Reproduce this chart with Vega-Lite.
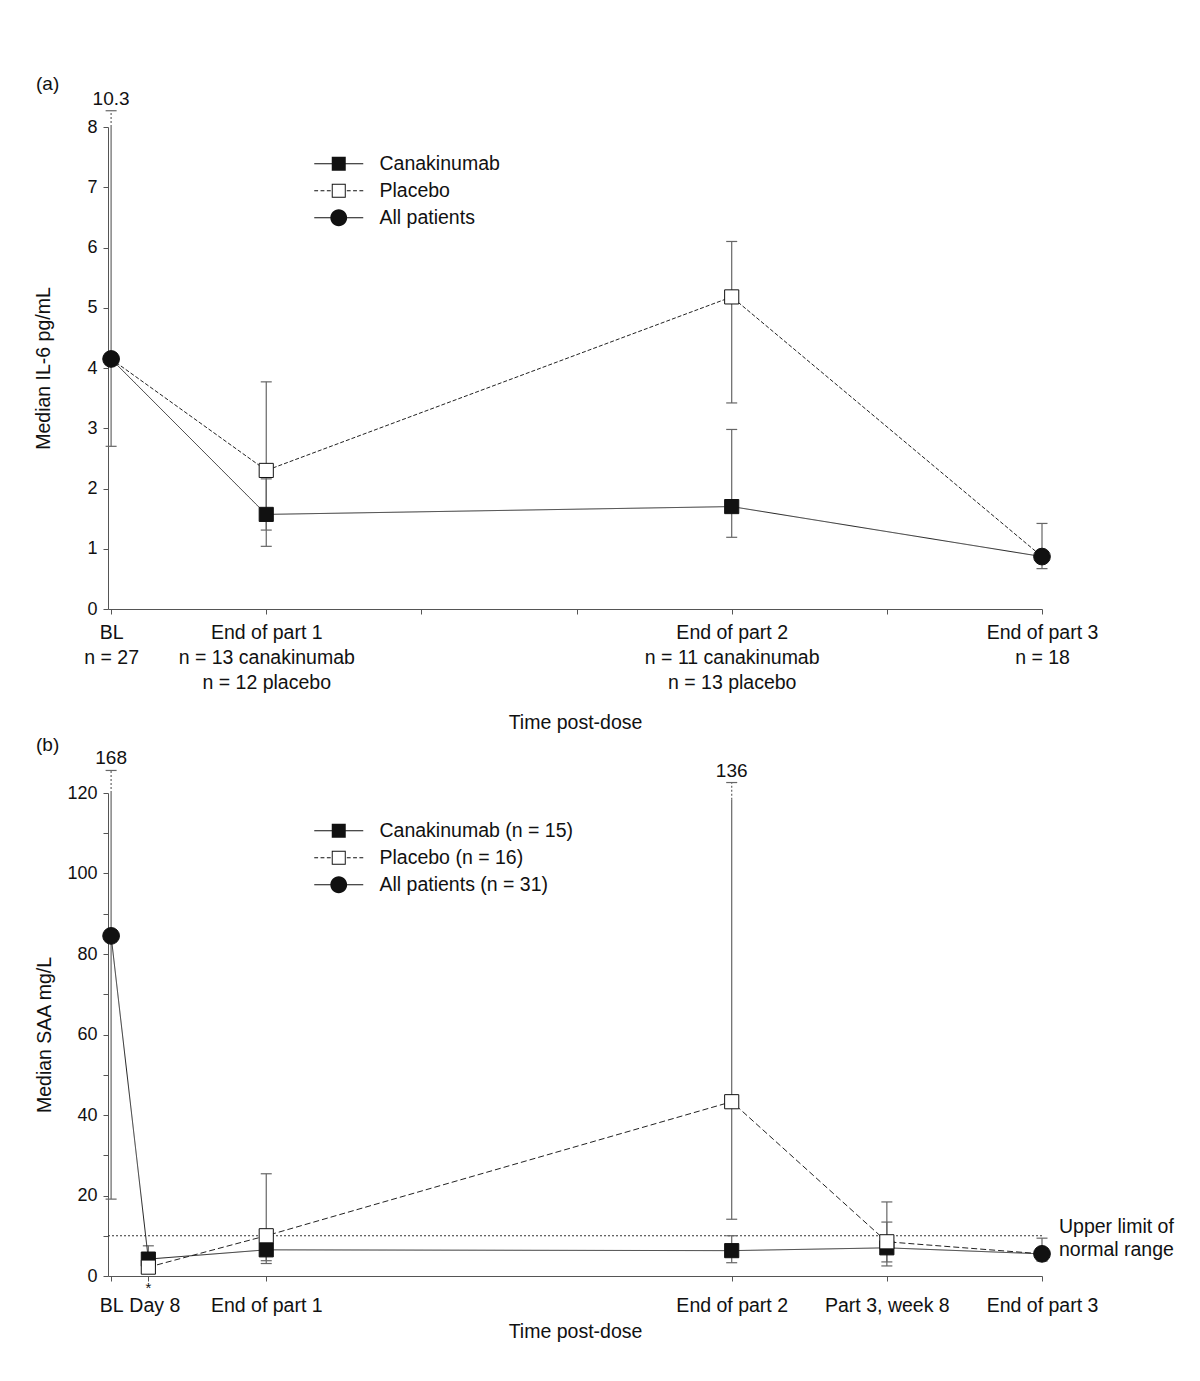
{
  "$schema": "https://vega.github.io/schema/vega-lite/v6.json",
  "background": "white",
  "padding": {"left": 33, "top": 74, "right": 10, "bottom": 10},
  "config": {
    "font": "Liberation Sans",
    "view": {"stroke": null},
    "axis": {
      "grid": false,
      "domainColor": "#555",
      "tickColor": "#555",
      "labelColor": "#111",
      "titleColor": "#111",
      "labelFont": "Liberation Sans",
      "titleFont": "Liberation Sans",
      "labelFontSize": 18,
      "titleFontSize": 19.5,
      "titleFontWeight": "normal",
      "tickSize": 5,
      "labelPadding": 6
    },
    "legend": {
      "labelFont": "Liberation Sans",
      "labelFontSize": 19.5,
      "labelColor": "#111",
      "labelOffset": 31,
      "labelLimit": 400,
      "rowPadding": 6,
      "padding": 0,
      "symbolSize": 196,
      "symbolStrokeWidth": 0,
      "symbolOpacity": 1
    },
    "title": {"font": "Liberation Sans", "fontSize": 19, "fontWeight": "normal", "color": "#111", "anchor": "start"}
  },
  "datasets": {
    "errA": [
      {"x": 0, "lo": 2.7, "hi": 8.0, "top": 8.27, "label": "10.3"},
      {"x": 1, "lo": 1.04, "hi": 2.16, "top": 2.16},
      {"x": 1, "lo": 1.31, "hi": 3.77, "top": 3.77},
      {"x": 4, "lo": 1.19, "hi": 2.98, "top": 2.98},
      {"x": 4, "lo": 3.42, "hi": 6.1, "top": 6.1},
      {"x": 6, "lo": 0.67, "hi": 1.42, "top": 1.42}
    ],
    "lineA": [
      {"series": "Canakinumab", "x": 0, "y": 4.15},
      {"series": "Canakinumab", "x": 1, "y": 1.57},
      {"series": "Canakinumab", "x": 4, "y": 1.70},
      {"series": "Canakinumab", "x": 6, "y": 0.87},
      {"series": "Placebo", "x": 0, "y": 4.15},
      {"series": "Placebo", "x": 1, "y": 2.30},
      {"series": "Placebo", "x": 4, "y": 5.18},
      {"series": "Placebo", "x": 6, "y": 0.87}
    ],
    "ptsA": [
      {"series": "All patients", "x": 0, "y": 4.15},
      {"series": "Canakinumab", "x": 1, "y": 1.57},
      {"series": "Canakinumab", "x": 4, "y": 1.70},
      {"series": "Placebo", "x": 1, "y": 2.30},
      {"series": "Placebo", "x": 4, "y": 5.18},
      {"series": "All patients", "x": 6, "y": 0.87}
    ],
    "errB": [
      {"x": 0, "lo": 19.1, "hi": 120, "top": 125.6, "label": "168"},
      {"x": 0.24, "lo": 3.0, "hi": 7.5, "top": 7.5},
      {"x": 1, "lo": 3.8, "hi": 8.5, "top": 8.5},
      {"x": 1, "lo": 3.1, "hi": 25.4, "top": 25.4},
      {"x": 4, "lo": 3.3, "hi": 10.0, "top": 10.0},
      {"x": 4, "lo": 14.1, "hi": 118.3, "top": 122.6, "label": "136"},
      {"x": 5, "lo": 3.5, "hi": 13.4, "top": 13.4},
      {"x": 5, "lo": 2.5, "hi": 18.4, "top": 18.4},
      {"x": 6, "lo": 3.7, "hi": 9.4, "top": 9.4}
    ],
    "lineB": [
      {"series": "Canakinumab (n = 15)", "x": 0, "y": 84.5},
      {"series": "Canakinumab (n = 15)", "x": 0.24, "y": 4.2},
      {"series": "Canakinumab (n = 15)", "x": 1, "y": 6.5},
      {"series": "Canakinumab (n = 15)", "x": 4, "y": 6.3},
      {"series": "Canakinumab (n = 15)", "x": 5, "y": 7.0},
      {"series": "Canakinumab (n = 15)", "x": 6, "y": 5.5},
      {"series": "Placebo (n = 16)", "x": 0.24, "y": 2.2},
      {"series": "Placebo (n = 16)", "x": 1, "y": 10.0},
      {"series": "Placebo (n = 16)", "x": 4, "y": 43.3},
      {"series": "Placebo (n = 16)", "x": 5, "y": 8.5},
      {"series": "Placebo (n = 16)", "x": 6, "y": 5.5}
    ],
    "ptsB": [
      {"series": "All patients (n = 31)", "x": 0, "y": 84.5},
      {"series": "Canakinumab (n = 15)", "x": 0.24, "y": 4.2},
      {"series": "Canakinumab (n = 15)", "x": 1, "y": 6.5},
      {"series": "Canakinumab (n = 15)", "x": 4, "y": 6.3},
      {"series": "Canakinumab (n = 15)", "x": 5, "y": 7.0},
      {"series": "Placebo (n = 16)", "x": 0.24, "y": 2.2},
      {"series": "Placebo (n = 16)", "x": 1, "y": 10.0},
      {"series": "Placebo (n = 16)", "x": 4, "y": 43.3},
      {"series": "Placebo (n = 16)", "x": 5, "y": 8.5},
      {"series": "All patients (n = 31)", "x": 6, "y": 5.5}
    ],
    "ulnB": [
      {"x": 6, "y": 10}
    ],
    "noteB": [
      {"x": 0.24, "y": 0, "note": "*"}
    ]
  },
  "resolve": {
    "scale": {"shape": "independent", "strokeDash": "independent"},
    "legend": {"shape": "independent"}
  },
  "spacing": 4,
  "vconcat": [
    {
      "width": 934,
      "height": 482,
      "title": {"text": "(a)", "frame": "group", "dx": -72, "offset": -4},
      "layer": [
        {
          "data": {"name": "errA"},
          "mark": {"type": "rule", "color": "#666", "strokeWidth": 1.2},
          "encoding": {
            "x": {
              "field": "x", "type": "quantitative",
              "scale": {"domain": [-0.02, 6], "nice": false, "zero": false},
              "axis": {
                "values": [0, 1, 2, 3, 4, 5, 6],
                "title": "Time post-dose",
                "labelExpr": "datum.value == 0 ? ['BL', 'n = 27'] : datum.value == 1 ? ['End of part 1', 'n = 13 canakinumab', 'n = 12 placebo'] : datum.value == 4 ? ['End of part 2', 'n = 11 canakinumab', 'n = 13 placebo'] : datum.value == 6 ? ['End of part 3', 'n = 18'] : ''",
                "labelFontSize": 19.5,
                "labelLineHeight": 25,
                "labelPadding": 9,
                "titlePadding": 22,
                "labelOverlap": false,
                "labelFlush": false,
                "labelBound": false
              }
            },
            "y": {
              "field": "lo", "type": "quantitative",
              "scale": {"domain": [0, 8], "nice": false},
              "axis": {"values": [0, 1, 2, 3, 4, 5, 6, 7, 8], "format": "d", "title": "Median IL-6 pg/mL", "titlePadding": 33}
            },
            "y2": {"field": "hi"}
          }
        },
        {
          "data": {"name": "errA"},
          "transform": [{"filter": "datum.top > datum.hi"}],
          "mark": {"type": "rule", "color": "#666", "strokeWidth": 1.2, "strokeDash": [2, 2]},
          "encoding": {
            "x": {"field": "x", "type": "quantitative"},
            "y": {"field": "hi", "type": "quantitative"},
            "y2": {"field": "top"}
          }
        },
        {
          "data": {"name": "errA"},
          "transform": [{"fold": ["lo", "top"], "as": ["end", "v"]}],
          "mark": {"type": "point", "shape": "M-1,0H1", "size": 121, "filled": false, "stroke": "#666", "strokeWidth": 1.2, "opacity": 1},
          "encoding": {
            "x": {"field": "x", "type": "quantitative"},
            "y": {"field": "v", "type": "quantitative"}
          }
        },
        {
          "data": {"name": "errA"},
          "transform": [{"filter": "datum.label"}],
          "mark": {"type": "text", "baseline": "bottom", "dy": -2, "fontSize": 19, "color": "#111"},
          "encoding": {
            "x": {"field": "x", "type": "quantitative"},
            "y": {"field": "top", "type": "quantitative"},
            "text": {"field": "label"}
          }
        },
        {
          "data": {"name": "lineA"},
          "mark": {"type": "line", "color": "#222", "strokeWidth": 1},
          "encoding": {
            "x": {"field": "x", "type": "quantitative"},
            "y": {"field": "y", "type": "quantitative"},
            "strokeDash": {"field": "series", "type": "nominal", "scale": {"domain": ["Canakinumab", "Placebo"], "range": [[1, 0], [4, 2]]}, "legend": null}
          }
        },
        {
          "data": {"name": "ptsA"},
          "transform": [{"filter": "datum.series == 'Canakinumab'"}],
          "mark": {"type": "point", "shape": "square", "size": 200, "filled": true, "fill": "#111", "stroke": "#111", "strokeWidth": 1, "opacity": 1},
          "encoding": {
            "x": {"field": "x", "type": "quantitative"},
            "y": {"field": "y", "type": "quantitative"}
          }
        },
        {
          "data": {"name": "ptsA"},
          "transform": [{"filter": "datum.series == 'Placebo'"}],
          "mark": {"type": "point", "shape": "square", "size": 200, "filled": true, "fill": "#ffffff", "stroke": "#111", "strokeWidth": 1, "opacity": 1},
          "encoding": {
            "x": {"field": "x", "type": "quantitative"},
            "y": {"field": "y", "type": "quantitative"}
          }
        },
        {
          "data": {"name": "ptsA"},
          "transform": [{"filter": "datum.series == 'All patients'"}],
          "mark": {"type": "point", "shape": "circle", "size": 280, "filled": true, "fill": "#111", "stroke": "#111", "strokeWidth": 1, "opacity": 1},
          "encoding": {
            "x": {"field": "x", "type": "quantitative"},
            "y": {"field": "y", "type": "quantitative"}
          }
        },
        {
          "data": {"name": "ptsA"},
          "mark": {"type": "point", "filled": true, "fill": "#111", "strokeWidth": 0, "opacity": 0, "size": 196},
          "encoding": {
            "x": {"field": "x", "type": "quantitative"},
            "y": {"field": "y", "type": "quantitative"},
            "shape": {
              "field": "series", "type": "nominal",
              "scale": {
                "domain": ["Canakinumab", "Placebo", "All patients"],
                "range": [
                  "M-3.5,-0.075H3.5V0.075H-3.5Z M-1,-1H1V1H-1Z",
                  "M-3.5,-0.075H-2.95V0.075H-3.5Z M-2.6,-0.075H-2.05V0.075H-2.6Z M-1.7,-0.075H-1.15V0.075H-1.7Z M1.15,-0.075H1.7V0.075H1.15Z M2.05,-0.075H2.6V0.075H2.05Z M2.95,-0.075H3.5V0.075H2.95Z M-1,-1H1V1H-1Z M-0.86,-0.86V0.86H0.86V-0.86Z",
                  "M-3.5,-0.075H3.5V0.075H-3.5Z M-1.2,0A1.2,1.2 0 1,1 1.2,0A1.2,1.2 0 1,1 -1.2,0Z"
                ]
              },
              "legend": {"title": null, "orient": "none", "legendX": 221, "legendY": 27, "symbolOpacity": 1, "symbolFillColor": "#111", "symbolStrokeWidth": 0}
            }
          }
        }
      ]
    },
    {
      "width": 934,
      "height": 483,
      "title": {"text": "(b)", "frame": "group", "dx": -72, "offset": -6},
      "layer": [
        {
          "data": {"name": "ulnB"},
          "mark": {"type": "rule", "color": "#333", "strokeWidth": 1.2, "strokeDash": [2, 2]},
          "encoding": {"y": {"field": "y", "type": "quantitative"}}
        },
        {
          "data": {"name": "errB"},
          "mark": {"type": "rule", "color": "#666", "strokeWidth": 1.2},
          "encoding": {
            "x": {
              "field": "x", "type": "quantitative",
              "scale": {"domain": [-0.02, 6], "nice": false, "zero": false},
              "axis": {
                "values": [0, 0.24, 1, 4, 5, 6],
                "title": "Time post-dose",
                "labelExpr": "datum.value == 0 ? 'BL' : datum.value == 0.24 ? 'Day 8' : datum.value == 1 ? 'End of part 1' : datum.value == 4 ? 'End of part 2' : datum.value == 5 ? 'Part 3, week 8' : 'End of part 3'",
                "labelOffset": {"condition": {"test": "datum.value == 0.24", "value": 6}, "value": 0},
                "labelFontSize": 19.5,
                "labelPadding": 15,
                "titlePadding": 8,
                "labelOverlap": false,
                "labelFlush": false,
                "labelBound": false
              }
            },
            "y": {
              "field": "lo", "type": "quantitative",
              "scale": {"domain": [0, 120], "nice": false},
              "axis": {"values": [0, 10, 20, 30, 40, 50, 60, 70, 80, 90, 100, 110, 120], "labelExpr": "datum.value % 20 == 0 ? datum.label : ''", "title": "Median SAA mg/L", "titlePadding": 12}
            },
            "y2": {"field": "hi"}
          }
        },
        {
          "data": {"name": "errB"},
          "transform": [{"filter": "datum.top > datum.hi"}],
          "mark": {"type": "rule", "color": "#666", "strokeWidth": 1.2, "strokeDash": [2, 2]},
          "encoding": {
            "x": {"field": "x", "type": "quantitative"},
            "y": {"field": "hi", "type": "quantitative"},
            "y2": {"field": "top"}
          }
        },
        {
          "data": {"name": "errB"},
          "transform": [{"fold": ["lo", "top"], "as": ["end", "v"]}],
          "mark": {"type": "point", "shape": "M-1,0H1", "size": 121, "filled": false, "stroke": "#666", "strokeWidth": 1.2, "opacity": 1},
          "encoding": {
            "x": {"field": "x", "type": "quantitative"},
            "y": {"field": "v", "type": "quantitative"}
          }
        },
        {
          "data": {"name": "errB"},
          "transform": [{"filter": "datum.label"}],
          "mark": {"type": "text", "baseline": "bottom", "dy": -2, "fontSize": 19, "color": "#111"},
          "encoding": {
            "x": {"field": "x", "type": "quantitative"},
            "y": {"field": "top", "type": "quantitative"},
            "text": {"field": "label"}
          }
        },
        {
          "data": {"name": "lineB"},
          "mark": {"type": "line", "color": "#222", "strokeWidth": 1},
          "encoding": {
            "x": {"field": "x", "type": "quantitative"},
            "y": {"field": "y", "type": "quantitative"},
            "strokeDash": {"field": "series", "type": "nominal", "scale": {"domain": ["Canakinumab (n = 15)", "Placebo (n = 16)"], "range": [[1, 0], [6, 3]]}, "legend": null}
          }
        },
        {
          "data": {"name": "ptsB"},
          "transform": [{"filter": "datum.series == 'Canakinumab (n = 15)'"}],
          "mark": {"type": "point", "shape": "square", "size": 200, "filled": true, "fill": "#111", "stroke": "#111", "strokeWidth": 1, "opacity": 1},
          "encoding": {
            "x": {"field": "x", "type": "quantitative"},
            "y": {"field": "y", "type": "quantitative"}
          }
        },
        {
          "data": {"name": "ptsB"},
          "transform": [{"filter": "datum.series == 'Placebo (n = 16)'"}],
          "mark": {"type": "point", "shape": "square", "size": 200, "filled": true, "fill": "#ffffff", "stroke": "#111", "strokeWidth": 1, "opacity": 1},
          "encoding": {
            "x": {"field": "x", "type": "quantitative"},
            "y": {"field": "y", "type": "quantitative"}
          }
        },
        {
          "data": {"name": "ptsB"},
          "transform": [{"filter": "datum.series == 'All patients (n = 31)'"}],
          "mark": {"type": "point", "shape": "circle", "size": 280, "filled": true, "fill": "#111", "stroke": "#111", "strokeWidth": 1, "opacity": 1},
          "encoding": {
            "x": {"field": "x", "type": "quantitative"},
            "y": {"field": "y", "type": "quantitative"}
          }
        },
        {
          "data": {"name": "ptsB"},
          "mark": {"type": "point", "filled": true, "fill": "#111", "strokeWidth": 0, "opacity": 0, "size": 196},
          "encoding": {
            "x": {"field": "x", "type": "quantitative"},
            "y": {"field": "y", "type": "quantitative"},
            "shape": {
              "field": "series", "type": "nominal",
              "scale": {
                "domain": ["Canakinumab (n = 15)", "Placebo (n = 16)", "All patients (n = 31)"],
                "range": [
                  "M-3.5,-0.075H3.5V0.075H-3.5Z M-1,-1H1V1H-1Z",
                  "M-3.5,-0.075H-2.95V0.075H-3.5Z M-2.6,-0.075H-2.05V0.075H-2.6Z M-1.7,-0.075H-1.15V0.075H-1.7Z M1.15,-0.075H1.7V0.075H1.15Z M2.05,-0.075H2.6V0.075H2.05Z M2.95,-0.075H3.5V0.075H2.95Z M-1,-1H1V1H-1Z M-0.86,-0.86V0.86H0.86V-0.86Z",
                  "M-3.5,-0.075H3.5V0.075H-3.5Z M-1.2,0A1.2,1.2 0 1,1 1.2,0A1.2,1.2 0 1,1 -1.2,0Z"
                ]
              },
              "legend": {"title": null, "orient": "none", "legendX": 221, "legendY": 28, "symbolOpacity": 1, "symbolFillColor": "#111", "symbolStrokeWidth": 0}
            }
          }
        },
        {
          "data": {"name": "ulnB"},
          "mark": {"type": "text", "text": ["Upper limit of", "normal range"], "align": "left", "baseline": "middle", "lineHeight": 23, "dx": 17, "dy": -9, "fontSize": 19.5, "color": "#111"},
          "encoding": {"x": {"field": "x", "type": "quantitative"}, "y": {"field": "y", "type": "quantitative"}}
        },
        {
          "data": {"name": "noteB"},
          "mark": {"type": "text", "align": "center", "baseline": "top", "dy": 5, "fontSize": 15, "color": "#111"},
          "encoding": {"x": {"field": "x", "type": "quantitative"}, "y": {"field": "y", "type": "quantitative"}, "text": {"field": "note"}}
        }
      ]
    }
  ]
}
